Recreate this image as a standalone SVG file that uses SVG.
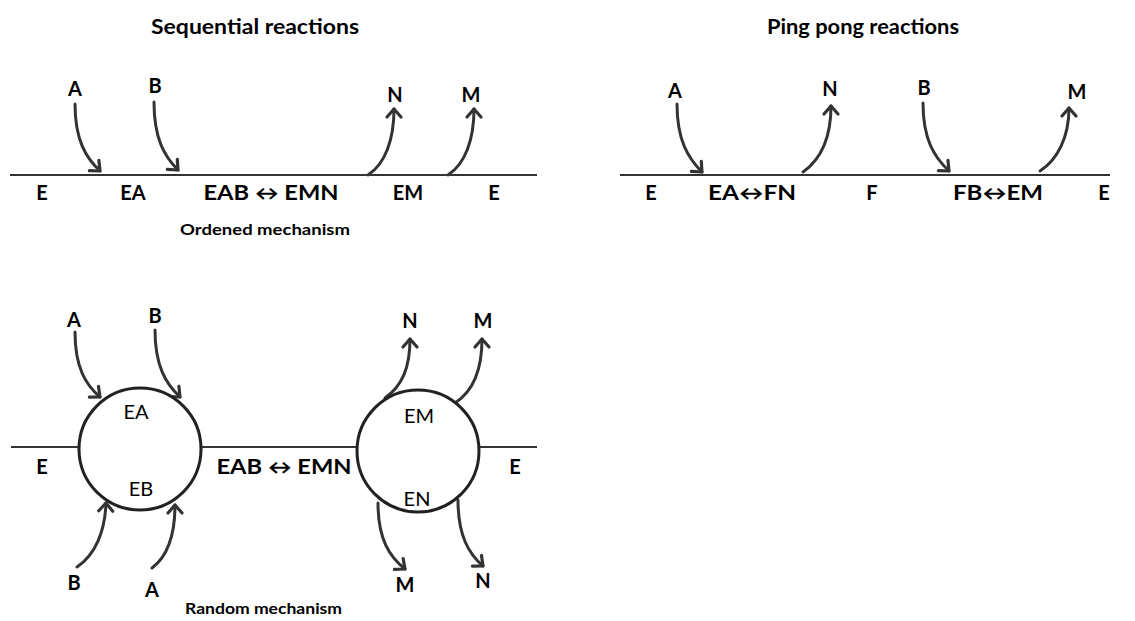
<svg xmlns="http://www.w3.org/2000/svg" width="1135" height="621" viewBox="0 0 1135 621">
  <style>
    .title { font-family: Lato, "Liberation Sans", sans-serif; font-weight: bold; font-size: 21px; fill: #000; }
    .lbl { font-family: Lato, "Liberation Sans", sans-serif; font-weight: bold; font-size: 20px; fill: #000; text-anchor: middle; }
    .reg { font-family: Lato, "Liberation Sans", sans-serif; font-weight: normal; font-size: 20px; fill: #000; text-anchor: middle; }
    .cap { font-family: Lato, "Liberation Sans", sans-serif; font-weight: bold; font-size: 15px; fill: #000; }
    .base { stroke: #333; stroke-width: 2.2; fill: none; }
    .arr { stroke: #333; stroke-width: 3; fill: none; stroke-linecap: round; marker-end: url(#head); }
    .ring { stroke: #222; stroke-width: 3; fill: #fff; }
  </style>
  <defs>
    <marker id="head" viewBox="-12 -10 16 20" refX="0" refY="0" markerWidth="16" markerHeight="20" markerUnits="userSpaceOnUse" orient="auto">
      <path d="M -8 -7 L 0 0 L -8 7" fill="none" stroke="#333" stroke-width="3.2" stroke-linecap="round" stroke-linejoin="round"/>
    </marker>
  </defs>
  <rect width="1135" height="621" fill="#fff"/>

  <!-- section titles -->
  <g id="title-sequential"><text class="title" x="151" y="34" textLength="208" lengthAdjust="spacingAndGlyphs">Sequential reactions</text></g>
  <g id="title-pingpong"><text class="title" x="767" y="34" textLength="192" lengthAdjust="spacingAndGlyphs">Ping pong reactions</text></g>

  <!-- connectors: reaction lines and substrate/product arrows -->
  <g id="connectors">
    <!-- ordered mechanism -->
    <line class="base" x1="10" y1="175" x2="537" y2="175"/>
    <path class="arr" d="M 75 104 C 75 140 86 158 100 171"/>
    <path class="arr" d="M 154 102 C 154 138 164 156 178 170"/>
    <path class="arr" d="M 368 175 C 385 164 394 140 394 109"/>
    <path class="arr" d="M 448 175 C 465 164 474 140 474 109"/>
    <!-- ping pong -->
    <line class="base" x1="620" y1="175" x2="1110" y2="175"/>
    <path class="arr" d="M 677 104 C 677 140 688 158 702 172"/>
    <path class="arr" d="M 923 103 C 923 139 934 157 949 171"/>
    <path class="arr" d="M 803 172 C 820 160 831 138 831 106"/>
    <path class="arr" d="M 1040 171 C 1057 160 1069 138 1069 108"/>
    <!-- random mechanism -->
    <line class="base" x1="11" y1="447" x2="80" y2="447"/>
    <line class="base" x1="200" y1="447" x2="358" y2="447"/>
    <line class="base" x1="478" y1="447" x2="537" y2="447"/>
    <path class="arr" d="M 75 332 C 75 368 86 385 100 397"/>
    <path class="arr" d="M 155 330 C 155 366 166 384 180 397"/>
    <path class="arr" d="M 77 567 C 95 555 105 532 106 503"/>
    <path class="arr" d="M 152 568 C 168 556 175 534 175 505"/>
    <path class="arr" d="M 385 398 C 402 386 410 368 410 339"/>
    <path class="arr" d="M 455 403 C 472 392 482 372 482 339"/>
    <path class="arr" d="M 378 503 C 378 540 390 557 405 569"/>
    <path class="arr" d="M 458 500 C 458 536 469 554 483 566"/>
  </g>

  <!-- ordered mechanism labels -->
  <g id="ord-A"><text class="lbl" x="75" y="96">A</text></g>
  <g id="ord-B"><text class="lbl" x="155" y="93">B</text></g>
  <g id="ord-N"><text class="lbl" x="395" y="102">N</text></g>
  <g id="ord-M"><text class="lbl" x="471" y="102">M</text></g>
  <g id="ord-E1"><text class="lbl" x="42" y="200">E</text></g>
  <g id="ord-EA"><text class="lbl" x="133" y="200">EA</text></g>
  <g id="ord-EAB-EMN"><text class="lbl" x="271" y="200" textLength="135" lengthAdjust="spacingAndGlyphs">EAB ↔ EMN</text></g>
  <g id="ord-EM"><text class="lbl" x="408" y="200">EM</text></g>
  <g id="ord-E2"><text class="lbl" x="494" y="200">E</text></g>
  <g id="ord-caption"><text class="cap" x="180" y="235" textLength="170" lengthAdjust="spacingAndGlyphs">Ordened mechanism</text></g>

  <!-- ping pong labels -->
  <g id="pp-A"><text class="lbl" x="675" y="98">A</text></g>
  <g id="pp-N"><text class="lbl" x="830" y="96">N</text></g>
  <g id="pp-B"><text class="lbl" x="924" y="95">B</text></g>
  <g id="pp-M"><text class="lbl" x="1077" y="99">M</text></g>
  <g id="pp-E1"><text class="lbl" x="651" y="200">E</text></g>
  <g id="pp-EA-FN"><text class="lbl" x="752" y="200" textLength="88" lengthAdjust="spacingAndGlyphs">EA↔FN</text></g>
  <g id="pp-F"><text class="lbl" x="872" y="200">F</text></g>
  <g id="pp-FB-EM"><text class="lbl" x="998" y="200" textLength="90" lengthAdjust="spacingAndGlyphs">FB↔EM</text></g>
  <g id="pp-E2"><text class="lbl" x="1104" y="200">E</text></g>

  <!-- random mechanism -->
  <g id="rnd-left-complex">
    <circle class="ring" cx="140" cy="449" r="61"/>
    <text class="reg" x="136" y="419">EA</text>
    <text class="reg" x="141" y="496">EB</text>
  </g>
  <g id="rnd-right-complex">
    <circle class="ring" cx="418" cy="451" r="61"/>
    <text class="reg" x="419" y="423">EM</text>
    <text class="reg" x="417" y="506">EN</text>
  </g>
  <g id="rnd-A-top"><text class="lbl" x="74" y="327">A</text></g>
  <g id="rnd-B-top"><text class="lbl" x="155" y="323">B</text></g>
  <g id="rnd-B-bottom"><text class="lbl" x="74" y="590">B</text></g>
  <g id="rnd-A-bottom"><text class="lbl" x="152" y="597">A</text></g>
  <g id="rnd-N-top"><text class="lbl" x="410" y="328">N</text></g>
  <g id="rnd-M-top"><text class="lbl" x="483" y="328">M</text></g>
  <g id="rnd-M-bottom"><text class="lbl" x="405" y="592">M</text></g>
  <g id="rnd-N-bottom"><text class="lbl" x="483" y="588">N</text></g>
  <g id="rnd-E1"><text class="lbl" x="42" y="474">E</text></g>
  <g id="rnd-EAB-EMN"><text class="lbl" x="284" y="474" textLength="135" lengthAdjust="spacingAndGlyphs">EAB ↔ EMN</text></g>
  <g id="rnd-E2"><text class="lbl" x="515" y="474">E</text></g>
  <g id="rnd-caption"><text class="cap" x="185" y="614" textLength="157" lengthAdjust="spacingAndGlyphs">Random mechanism</text></g>
</svg>
